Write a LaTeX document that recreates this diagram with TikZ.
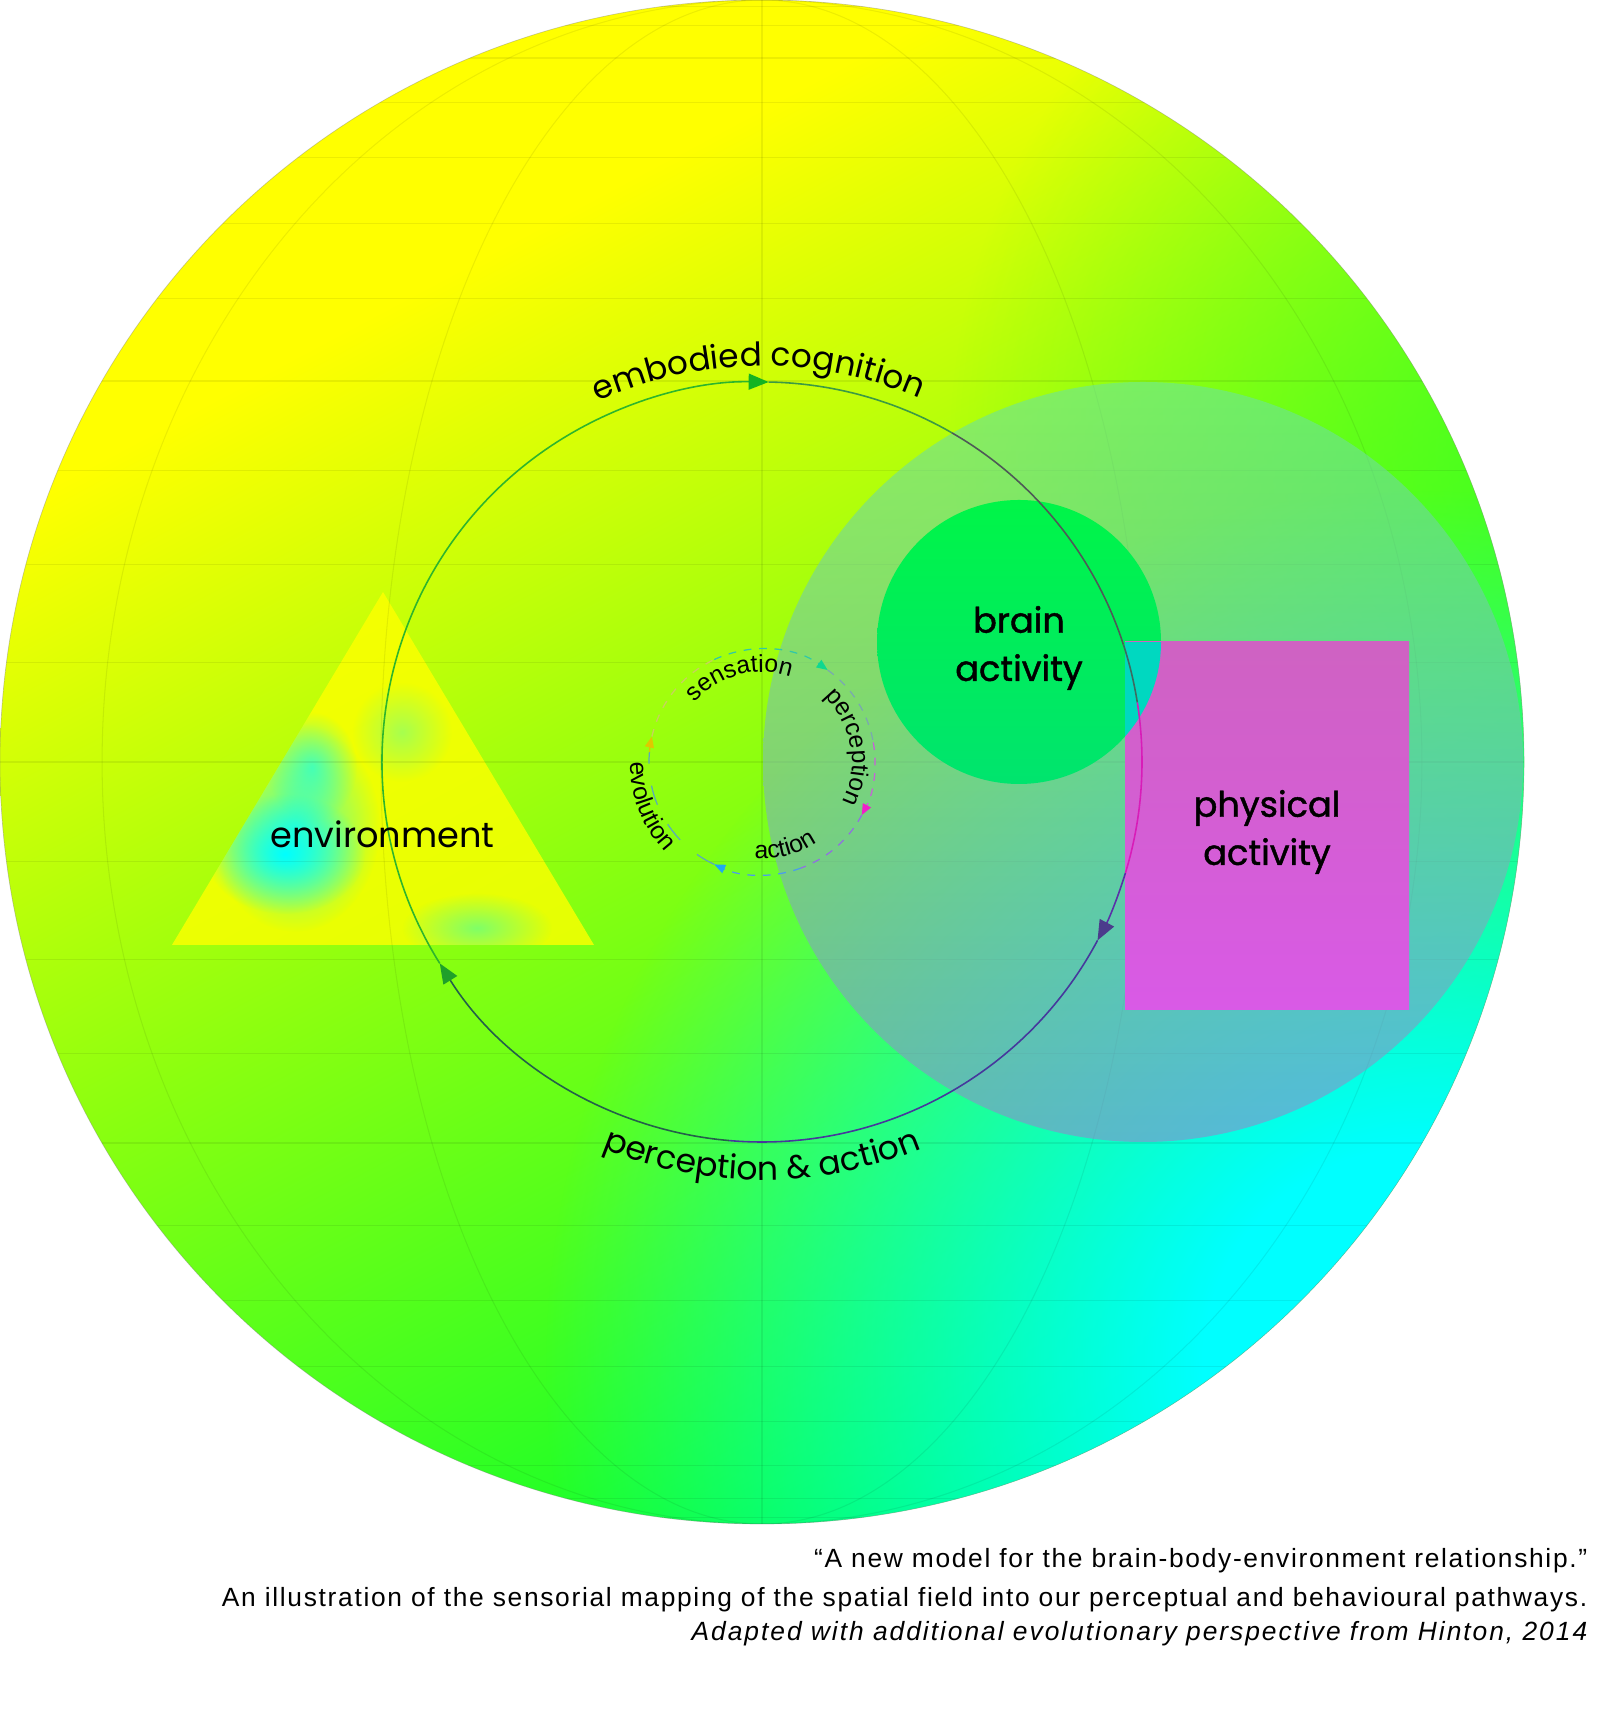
\documentclass[tikz,border=0pt]{standalone}
\usepackage{fontspec}
\setmainfont{Poppins}
\newfontfamily\helv{Liberation Sans}
\newfontfamily\capfont[LetterSpace=6.4]{Liberation Sans}
\newfontfamily\capit[LetterSpace=7.5]{Liberation Sans}
\newfontfamily\popmid[FakeBold=1.2]{Poppins}
\usetikzlibrary{arrows.meta,calc,decorations.text,fadings}

\definecolor{bodytop}{rgb}{0.42,0.90,0.60}
\definecolor{bodybot}{rgb}{0.55,0.55,0.80}
\definecolor{braintop}{HTML}{00F548}
\definecolor{brainbot}{HTML}{00E46E}
\definecolor{rectop}{HTML}{CF62C2}
\definecolor{recbot}{HTML}{D95AE6}
\definecolor{overlapc}{HTML}{00D8C0}
\definecolor{envyellow}{rgb}{1,1,0}
\definecolor{blobcyan}{rgb}{0,1,1}
\definecolor{blobgreen}{rgb}{0.4,1,0.5}
\definecolor{rimgreen}{rgb}{0.15,1,0.15}
% loop colours
\definecolor{lgreen}{HTML}{2DB52D}
\definecolor{ltipg}{HTML}{14B422}
\definecolor{lgreengray}{HTML}{3C9A44}
\definecolor{lgray}{HTML}{4E5A56}
\definecolor{lteal}{HTML}{3E6A60}
\definecolor{lmag}{HTML}{D81CB8}
\definecolor{lpurp}{HTML}{5A30A8}
\definecolor{ltipp}{HTML}{4B3C8C}
\definecolor{lindigo}{HTML}{46389C}
\definecolor{ldark}{HTML}{24604A}
\definecolor{ltipd}{HTML}{1FA02A}
% inner loop colours
\definecolor{ipale}{HTML}{C8D060}
\definecolor{iteal}{HTML}{30C8A8}
\definecolor{itipt}{HTML}{10D890}
\definecolor{igray}{HTML}{7AA8B0}
\definecolor{ipink}{HTML}{C860D8}
\definecolor{itipp}{HTML}{F020C8}
\definecolor{iviolet}{HTML}{9070E0}
\definecolor{iblue}{HTML}{4A9CEE}
\definecolor{itipb}{HTML}{20A8F0}
\definecolor{ievo}{HTML}{5AAAB8}
\definecolor{iyellow}{HTML}{D8C800}
\definecolor{itipy}{HTML}{E0C800}

\pgfdeclarehorizontalshading{globeshade}{100bp}{rgb(0bp)=(1,1,0); rgb(31bp)=(1,1,0); rgb(50bp)=(0.55,1,0.06); rgb(74.6bp)=(0,1,0.18); rgb(100bp)=(0,1,0.18)}
\pgfdeclareradialshading{cyanmask}{\pgfpointorigin}{gray(0bp)=(1); gray(6.2bp)=(1); gray(25bp)=(0); gray(50bp)=(0)}
\pgfdeclarefading{cyanfade}{\pgfuseshading{cyanmask}}
\tikzfading[name=blobfade, inner color=transparent!0, outer color=transparent!100]

\tikzset{
  gridline/.style={black, opacity=0.07, line width=0.3pt},
  loopline/.style={line width=0.45pt},
  looptip/.style={-{Triangle[length=2mm,width=1.6mm,color=#1]}},
  dashloop/.style={line width=0.35pt, dash pattern=on 2.2pt off 2.2pt},
  tinytip/.style={-{Triangle[length=1.1mm,width=0.9mm,color=#1]}},
  arctext/.style={decorate, decoration={text along path, text align=center, text={#1}}},
  plainlabel/.style={font=\fontsize{10}{12}\selectfont, inner sep=0pt},
  blocklabel/.style={font=\popmid\fontsize{10}{13.7}\selectfont, align=center, inner sep=0pt},
  caption/.style={font=\capfont\fontsize{7.5}{9}\selectfont, anchor=base east, inner sep=0pt}
}

\begin{document}
\begin{tikzpicture}
\useasboundingbox (0,0) rectangle (16,17.12);
\coordinate (O) at (7.62,9.50);
\coordinate (B) at (11.43,9.50);
\coordinate (Bc) at (10.19,10.70);
\coordinate (Ta) at (3.83,11.20);
\coordinate (Tb) at (1.72,7.67);
\coordinate (Tc) at (5.94,7.67);

% globe
\shade[shading=globeshade, shading angle=-62] (O) circle (7.62);
\begin{scope}
  \clip (O) circle (7.62);
  \fill[rimgreen, opacity=0.7, path fading=blobfade] (16.0,12.62) circle (6.5);
  \fill[blobcyan, path fading=cyanfade] (14.20,3.47) circle (8.74);
\end{scope}
\draw[gray, opacity=0.4, line width=0.2pt] (O) circle (7.62);

% environment triangle
\fill[envyellow, opacity=0.8] (Ta) -- (Tb) -- (Tc) -- cycle;
\begin{scope}
  \clip (Ta) -- (Tb) -- (Tc) -- cycle;
  \fill[blobcyan, opacity=0.7, path fading=blobfade] (2.95,8.85) ellipse [x radius=0.85, y radius=1.05];
  \fill[blobcyan, path fading=blobfade] (2.85,8.58) ellipse [x radius=0.8, y radius=0.6];
  \fill[blobcyan, opacity=0.6, path fading=blobfade] (3.12,9.45) ellipse [x radius=0.45, y radius=0.55];
  \fill[blobcyan, opacity=0.3, path fading=blobfade] (4.02,9.80) circle (0.5);
  \fill[blobgreen, opacity=0.8, path fading=blobfade] (4.77,7.84) ellipse [x radius=0.75, y radius=0.35];
\end{scope}

% globe grid
\begin{scope}
  \clip (O) circle (7.62);
  \foreach \k in {-11,...,11}
    \draw[gridline] (0,{9.5+7.62*sin(7.5*\k)}) -- ++(15.24,0);
  \foreach \a in {30,60}
    \draw[gridline] (O) ellipse [x radius={7.62*sin(\a)}, y radius=7.62];
  \draw[gridline] (7.62,1.88) -- (7.62,17.12);
\end{scope}

% body, brain and physical activity
\shade[top color=bodytop, bottom color=bodybot, opacity=0.6] (B) circle (3.8);
\shade[top color=braintop, bottom color=brainbot] (Bc) circle (1.42);
\shade[top color=rectop, bottom color=recbot] (11.25,7.02) rectangle (14.09,10.70);
\begin{scope}
  \clip (Bc) circle (1.42);
  \fill[overlapc] (11.25,7.02) rectangle (14.09,10.70);
\end{scope}

% embodied cognition loop
\draw[loopline, draw=lgreen, looptip=ltipg] ($(O)+(212:3.8)$) arc[start angle=212, end angle=89, radius=3.8];
\draw[loopline, draw=lgreengray] ($(O)+(89:3.8)$) arc[start angle=89, end angle=60, radius=3.8];
\draw[loopline, draw=lgray] ($(O)+(60:3.8)$) arc[start angle=60, end angle=18, radius=3.8];
\draw[loopline, draw=lteal] ($(O)+(18:3.8)$) arc[start angle=18, end angle=9, radius=3.8];
\draw[loopline, draw=lmag] ($(O)+(9:3.8)$) arc[start angle=9, end angle=-17, radius=3.8];
\draw[loopline, draw=lpurp, looptip=ltipp] ($(O)+(-17:3.8)$) arc[start angle=-17, end angle=-28, radius=3.8];
\draw[loopline, draw=lindigo] ($(O)+(-28:3.8)$) arc[start angle=-28, end angle=-95, radius=3.8];
\draw[loopline, draw=ldark, looptip=ltipd] ($(O)+(-95:3.8)$) arc[start angle=-95, end angle=-148, radius=3.8];

% inner loop
\draw[dashloop, draw=ipale] ($(O)+(167:1.13)$) arc[start angle=167, end angle=115, radius=1.13];
\draw[dashloop, draw=iteal, tinytip=itipt] ($(O)+(115:1.13)$) arc[start angle=115, end angle=54.5, radius=1.13];
\draw[dashloop, draw=igray] ($(O)+(54.5:1.13)$) arc[start angle=54.5, end angle=10, radius=1.13];
\draw[dashloop, draw=ipink, tinytip=itipp] ($(O)+(10:1.13)$) arc[start angle=10, end angle=-28, radius=1.13];
\draw[dashloop, draw=iviolet] ($(O)+(-28:1.13)$) arc[start angle=-28, end angle=-70, radius=1.13];
\draw[dashloop, draw=iblue, tinytip=itipb] ($(O)+(-70:1.13)$) arc[start angle=-70, end angle=-115, radius=1.13];
\draw[line width=0.35pt, dash pattern=on 5.7pt off 6.3pt, draw=ievo] ($(O)+(-115:1.13)$) arc[start angle=-115, end angle=-185, radius=1.13];
\draw[line width=0.35pt, draw=iyellow, tinytip=itipy] ($(O)+(-185:1.13)$) arc[start angle=-185, end angle=-193, radius=1.13];

% curved labels
\path[arctext={|\fontsize{9.3}{12}\selectfont|embodied cognition}] ($(O)+(135:3.96)$) arc[start angle=135, end angle=46, radius=3.96];
\path[arctext={|\fontsize{9.4}{12}\selectfont|perception {\&} action}] ($(O)+(225:4.18)$) arc[start angle=225, end angle=315, radius=4.18];
\path[arctext={|\helv\fontsize{7}{8}\selectfont|sensation}] ($(O)+(160:0.90)$) arc[start angle=160, end angle=50, radius=0.90];
\path[arctext={|\helv\fontsize{7}{8}\selectfont|perception}] ($(O)+(60:0.90)$) arc[start angle=60, end angle=-40, radius=0.90];
\path[arctext={|\helv\fontsize{7}{8}\selectfont|action}] ($(O)+(-120:0.97)$) arc[start angle=-120, end angle=-30, radius=0.97];
\path[arctext={|\helv\fontsize{7}{8}\selectfont|evolution}] ($(O)+(171.5:1.32)$) arc[start angle=171.5, end angle=231.5, radius=1.32];

% labels
\node[plainlabel, anchor=base] (env) at (3.825,8.64) {environment};
\node[blocklabel] (brain) at (10.19,10.64) {brain\\activity};
\node[blocklabel] (body) at (12.67,8.80) {physical\\activity};

% caption
\node[caption] (cap1) at (15.88,1.44) {“A new model for the brain-body-environment relationship.”};
\node[caption] (cap2) at (15.88,1.05) {An illustration of the sensorial mapping of the spatial field into our perceptual and behavioural pathways.};
\node[caption, font=\capit\itshape\fontsize{7.5}{9}\selectfont] (cap3) at (15.88,0.71) {Adapted with additional evolutionary perspective from Hinton, 2014};
\end{tikzpicture}
\end{document}
